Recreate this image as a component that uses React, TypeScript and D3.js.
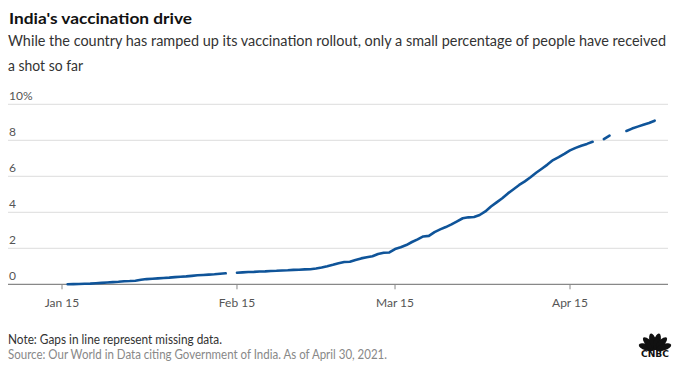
import React from "react";
import * as d3 from "d3";

// ---- Data (share of population with at least one dose, %) ----
const dateLabels: string[] = [
  "2021-01-16","2021-01-17","2021-01-18","2021-01-19","2021-01-20","2021-01-21","2021-01-22","2021-01-23","2021-01-24","2021-01-25",
  "2021-01-26","2021-01-27","2021-01-28","2021-01-29","2021-01-30","2021-01-31","2021-02-01","2021-02-02","2021-02-03","2021-02-04",
  "2021-02-05","2021-02-06","2021-02-07","2021-02-08","2021-02-09","2021-02-10","2021-02-11","2021-02-12","2021-02-13","2021-02-14",
  "2021-02-15","2021-02-16","2021-02-17","2021-02-18","2021-02-19","2021-02-20","2021-02-21","2021-02-22","2021-02-23","2021-02-24",
  "2021-02-25","2021-02-26","2021-02-27","2021-02-28","2021-03-01","2021-03-02","2021-03-03","2021-03-04","2021-03-05","2021-03-06",
  "2021-03-07","2021-03-08","2021-03-09","2021-03-10","2021-03-11","2021-03-12","2021-03-13","2021-03-14","2021-03-15","2021-03-16",
  "2021-03-17","2021-03-18","2021-03-19","2021-03-20","2021-03-21","2021-03-22","2021-03-23","2021-03-24","2021-03-25","2021-03-26",
  "2021-03-27","2021-03-28","2021-03-29","2021-03-30","2021-03-31","2021-04-01","2021-04-02","2021-04-03","2021-04-04","2021-04-05",
  "2021-04-06","2021-04-07","2021-04-08","2021-04-09","2021-04-10","2021-04-11","2021-04-12","2021-04-13","2021-04-14","2021-04-15",
  "2021-04-16","2021-04-17","2021-04-18","2021-04-19","2021-04-20","2021-04-21","2021-04-22","2021-04-23","2021-04-24","2021-04-25",
  "2021-04-26","2021-04-27","2021-04-28","2021-04-29","2021-04-30",
];

const vaccinatedPct: (number | null)[] = [
  0.00, 0.01, 0.02, 0.03, 0.04, 0.06, 0.08, 0.10, 0.12, 0.14,
  0.17, 0.18, 0.20, 0.25, 0.29, 0.31, 0.33, 0.35, 0.37, 0.40,
  0.42, 0.44, 0.47, 0.50, 0.52, 0.54, 0.56, 0.59, 0.61, null,
  0.64, 0.66, 0.68, 0.69, 0.71, 0.72, 0.74, 0.75, 0.77, 0.78,
  0.80, 0.81, 0.83, 0.84, 0.88, 0.93, 1.00, 1.08, 1.17, 1.24,
  1.25, 1.35, 1.44, 1.50, 1.56, 1.68, 1.75, 1.77, 1.96, 2.06,
  2.18, 2.35, 2.50, 2.66, 2.69, 2.90, 3.05, 3.18, 3.33, 3.50,
  3.67, 3.72, 3.74, 3.85, 4.05, 4.32, 4.55, 4.78, 5.05, 5.28,
  5.52, 5.72, 5.95, 6.20, 6.42, 6.65, 6.90, 7.07, 7.25, 7.44,
  7.58, 7.70, 7.80, 7.92, null, 8.07, 8.26, null, null, 8.52,
  8.65, 8.76, 8.86, 8.96, 9.09,
];

const yTicks: number[] = [0, 2, 4, 6, 8, 10];
const xTickDates: string[] = ["2021-01-15", "2021-02-15", "2021-03-15", "2021-04-15"];
const xTickLabels: string[] = ["Jan 15", "Feb 15", "Mar 15", "Apr 15"];
const logoFeatherAngles: number[] = [-72, -43, -14, 14, 43, 72];

const title = "India's vaccination drive";
const subtitleLines = [
  "While the country has ramped up its vaccination rollout, only a small percentage of people have received",
  "a shot so far",
];
const note = "Note: Gaps in line represent missing data.";
const source = "Source: Our World in Data citing Government of India. As of April 30, 2021.";

const W = 678;
const H = 375;
const FONT = "Lato, 'Open Sans', sans-serif";

export default function App() {
  const parse = (s: string) => new Date(s + "T00:00:00Z");
  const data = dateLabels.map((d, i) => ({ date: parse(d), v: vaccinatedPct[i] }));

  const x = d3
    .scaleUtc()
    .domain([parse("2021-01-15"), parse("2021-04-15")])
    .range([62, 570]);
  const y = d3.scaleLinear().domain([0, 10]).range([284.3, 104.3]);

  const gridLeft = 8;
  const gridRight = 668;

  const line = d3
    .line<{ date: Date; v: number | null }>()
    .defined((d) => d.v != null)
    .x((d) => x(d.date))
    .y((d) => y(d.v as number));

  const lineColor = "#0f5499";

  return (
    <svg
      width={W}
      height={H}
      viewBox={`0 0 ${W} ${H}`}
      style={{ position: "absolute", left: 0, top: 0, background: "#fff" }}
    >
      <rect x={0} y={0} width={W} height={H} fill="#fff" />
      {/* Title */}
      <text x={9} y={24} fontFamily={FONT} fontWeight={700} fontSize={16} fill="#111" textLength={183} lengthAdjust="spacingAndGlyphs">
        {title}
      </text>
      <text x={8} y={46} fontFamily={FONT} fontSize={14.5} fill="#333" textLength={658} lengthAdjust="spacingAndGlyphs">
        {subtitleLines[0]}
      </text>
      <text x={8} y={70.5} fontFamily={FONT} fontSize={14.5} fill="#333" textLength={75} lengthAdjust="spacingAndGlyphs">
        {subtitleLines[1]}
      </text>

      {/* Grid */}
      {yTicks.map((t) => (
        <g key={t}>
          {t !== 0 && (
            <line x1={gridLeft} x2={gridRight} y1={y(t)} y2={y(t)} stroke="#dcdcdc" strokeWidth={1} />
          )}
          <text x={9} y={y(t) - 4.5} fontFamily={FONT} fontSize={12} fill="#555">
            {t === 10 ? "10%" : String(t)}
          </text>
        </g>
      ))}
      {/* Axis baseline */}
      <line x1={gridLeft} x2={gridRight} y1={y(0)} y2={y(0)} stroke="#888" strokeWidth={1.2} />
      {xTickDates.map((d, i) => {
        const xx = x(parse(d));
        return (
          <g key={d}>
            <line x1={xx} x2={xx} y1={y(0)} y2={y(0) + 5} stroke="#888" strokeWidth={1} />
            <text x={xx} y={306.5} textAnchor="middle" fontFamily={FONT} fontSize={12} fill="#555">
              {xTickLabels[i]}
            </text>
          </g>
        );
      })}

      {/* Line */}
      <path
        d={line(data) || ""}
        fill="none"
        stroke={lineColor}
        strokeWidth={2.6}
        strokeLinejoin="round"
        strokeLinecap="round"
      />

      {/* Footer */}
      <text x={8} y={343.5} fontFamily={FONT} fontSize={12.5} fill="#333" textLength={214} lengthAdjust="spacingAndGlyphs">
        {note}
      </text>
      <text x={8} y={358.5} fontFamily={FONT} fontSize={12.5} fill="#888" textLength={379} lengthAdjust="spacingAndGlyphs">
        {source}
      </text>

      {/* CNBC peacock logo */}
      <g transform="translate(655,350)">
        {logoFeatherAngles.map((a, i) => (
          <ellipse
            key={i}
            cx={0}
            cy={-9}
            rx={3.3}
            ry={8}
            fill="#111"
            transform={`rotate(${a})`}
          />
        ))}
        <rect x={-1.2} y={-4} width={2.4} height={4} fill="#111" />
        <text x={0} y={7} textAnchor="middle" fontFamily="'DejaVu Sans', sans-serif" fontWeight={900} fontSize={8} fill="#111" textLength={28} lengthAdjust="spacingAndGlyphs">
          CNBC
        </text>
      </g>
    </svg>
  );
}
